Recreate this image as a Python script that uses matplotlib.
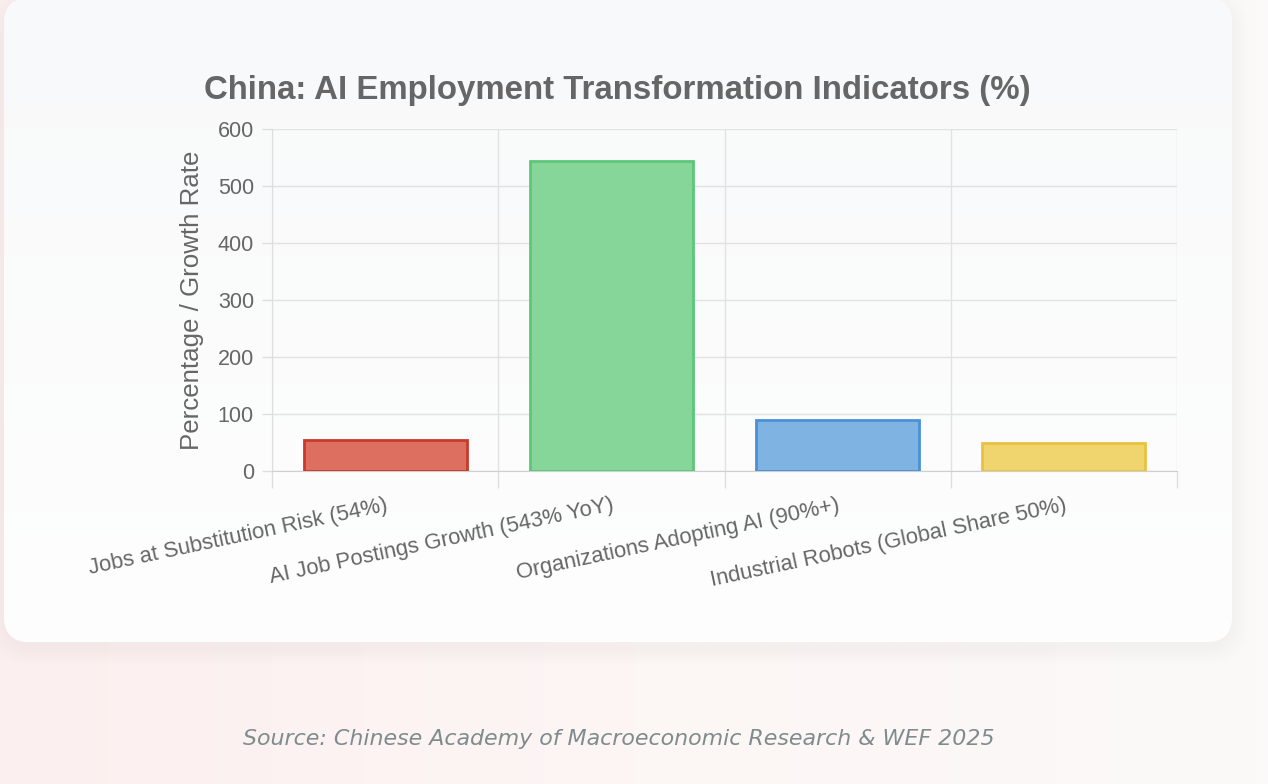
import numpy as np
import matplotlib
matplotlib.use("Agg")
import matplotlib.pyplot as plt
from matplotlib.patches import FancyBboxPatch

# data
categories = ["Jobs at Substitution Risk (54%)", "AI Job Postings Growth (543% YoY)",
              "Organizations Adopting AI (90%+)", "Industrial Robots (Global Share 50%)"]
values = [54, 543, 90, 50]
fill_colors = ["#dc6f5f", "#86d69a", "#7fb3e1", "#f0d46d"]
edge_colors = ["#c93a2c", "#5cc679", "#4a91d8", "#e9c13f"]
y_ticks = [0, 100, 200, 300, 400, 500, 600]

W, H = 1268, 784
plt.rcParams['font.family'] = ['Liberation Sans', 'DejaVu Sans']
fig = plt.figure(figsize=(W / 100, H / 100), dpi=100)

# background gradient
bg = fig.add_axes([0, 0, 1, 1], zorder=-10)
grad = np.linspace(0, 1, 256)[None, :]
cmap = matplotlib.colors.LinearSegmentedColormap.from_list("bg", ["#fcefef", "#fdf6f5", "#fbf9f9"])
bg.imshow(grad, aspect="auto", cmap=cmap, extent=[0, 1, 0, 1])
bg.set_xlim(0, 1)
bg.set_ylim(0, 1)
bg.axis("off")

# card with soft shadow
x0, y0, x1, y1 = 4, -2, 1232, 642
for i in range(8):
    grow = 16 - i * 2
    sh = FancyBboxPatch(((x0 - grow) / W, (H - y1 - grow - 6) / H),
                        (x1 - x0 + 2 * grow) / W, (y1 - y0 + 2 * grow) / H,
                        boxstyle="round,pad=0,rounding_size=0.03",
                        transform=fig.transFigure, facecolor="#000000", edgecolor="none",
                        alpha=0.005, mutation_aspect=W / H)
    bg.add_artist(sh)
card = FancyBboxPatch((x0 / W, (H - y1) / H), (x1 - x0) / W, (y1 - y0) / H,
                      boxstyle="round,pad=0,rounding_size=0.02",
                      transform=fig.transFigure, facecolor="#fafbfc", edgecolor="none",
                      mutation_aspect=W / H)
bg.add_artist(card)
# vertical gradient inside the card
card_cmap = matplotlib.colors.LinearSegmentedColormap.from_list("card", ["#fefefe", "#f8f9fa"])
card_img = bg.imshow(np.linspace(0, 1, 256)[:, None], aspect="auto", cmap=card_cmap,
                     extent=[x0 / W, x1 / W, (H - y1) / H, (H - y0) / H], origin="lower",
                     zorder=5)
card_img.set_clip_path(card)

# chart
left, right, top, bottom = 272, 1177, 129, 471
ax = fig.add_axes([left / W, (H - bottom) / H, (right - left) / W, (bottom - top) / H])
ax.set_facecolor("none")
x = np.arange(len(categories))
ax.bar(x, values, width=0.72, color=fill_colors, edgecolor=edge_colors, linewidth=2, zorder=3)
ax.set_xlim(-0.5, len(categories) - 0.5)
ax.set_ylim(0, 600)
ax.set_yticks(y_ticks)
ax.set_yticklabels([str(t) for t in y_ticks], fontsize=15.5, color="#666666")
ax.set_xticks(x)
ax.set_xticklabels(categories, rotation=12, ha="right", rotation_mode="anchor",
                   fontsize=15.8, color="#666666")
ax.set_xticks(np.arange(-0.5, len(categories)), minor=True)
ax.tick_params(axis="x", which="major", length=0, pad=17)
ax.tick_params(axis="x", which="minor", length=12, color="#dedede", width=1)
ax.tick_params(axis="y", length=7, color="#dedede", width=1, pad=6)
ax.grid(axis="y", color="#e2e2e2", linewidth=1, zorder=0)
ax.grid(axis="x", which="minor", color="#e2e2e2", linewidth=1, zorder=0)
for s in ["top", "right"]:
    ax.spines[s].set_visible(False)
ax.spines["left"].set_color("#dedede")
ax.spines["bottom"].set_color("#cfcfcf")
ax.set_ylabel("Percentage / Growth Rate", fontsize=18.6, color="#666666", labelpad=10)

fig.text(617 / W, 1 - 90 / H, "China: AI Employment Transformation Indicators (%)",
         ha="center", va="center", fontsize=23.8, fontweight="bold", color="#666666")
fig.text(619 / W, 1 - 739 / H, "Source: Chinese Academy of Macroeconomic Research & WEF 2025",
         ha="center", va="center", fontsize=15.9, style="italic", color="#7f8c8d",
         family=["DejaVu Sans"])

fig.savefig("out.png", dpi=100)
